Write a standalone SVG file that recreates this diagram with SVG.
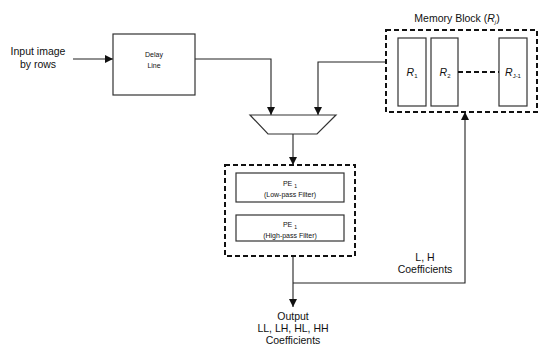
<svg xmlns="http://www.w3.org/2000/svg" width="539" height="349" viewBox="0 0 539 349">
<defs>
<style>
.box{fill:#fff;stroke:#333;stroke-width:1.2}
.dash{fill:none;stroke:#111;stroke-width:2;stroke-dasharray:5,3}
.ln{fill:none;stroke:#222;stroke-width:1.1}
text{font-family:"Liberation Sans",Arial,sans-serif;fill:#111;text-anchor:middle}
.t10{font-size:10.5px}
.t7{font-size:7px}
.it{font-style:italic}
</style>
<marker id="ah" viewBox="0 0 10 10" refX="10" refY="5" markerWidth="8" markerHeight="8" markerUnits="userSpaceOnUse" orient="auto">
<path d="M0,0 L10,5 L0,10 z" fill="#111"/>
</marker>
</defs>
<rect width="539" height="349" fill="#fff"/>
<g id="connectors">
<line class="ln" x1="73" y1="59" x2="113" y2="59" marker-end="url(#ah)"/>
<polyline class="ln" points="195,59 271,59 271,115" marker-end="url(#ah)"/>
<polyline class="ln" points="386,62 318,62 318,115" marker-end="url(#ah)"/>
<line class="ln" x1="293" y1="134" x2="293" y2="165" marker-end="url(#ah)"/>
<line class="ln" x1="293" y1="256" x2="293" y2="307" marker-end="url(#ah)"/>
<polyline class="ln" points="293,283 465,283 465,112" marker-end="url(#ah)"/>
</g>
<g id="input">
<text class="t10" x="38" y="55">Input image</text>
<text class="t10" x="38" y="68">by rows</text>
</g>
<g id="delay">
<rect class="box" x="113" y="34" width="82" height="61"/>
<text class="t7" x="154" y="57">Delay</text>
<text class="t7" x="154" y="68">Line</text>
</g>
<g id="mux">
<polygon class="box" points="250,115 336,115 317,134 268,134"/>
</g>
<g id="memory">
<text class="t10" x="457" y="22">Memory Block (<tspan class="it">R</tspan><tspan font-size="6" dy="2" class="it">j</tspan><tspan dy="-2">)</tspan></text>
<rect class="dash" x="386" y="30" width="151" height="82"/>
<rect class="box" x="398" y="38" width="28" height="68"/>
<rect class="box" x="431" y="38" width="27" height="68"/>
<rect class="box" x="499" y="38" width="28" height="68"/>
<line x1="458" y1="72" x2="499" y2="72" stroke="#111" stroke-width="2" stroke-dasharray="5,3"/>
<text class="t10" x="412" y="76"><tspan class="it">R</tspan><tspan font-size="6" dy="2">1</tspan></text>
<text class="t10" x="445" y="76"><tspan class="it">R</tspan><tspan font-size="6" dy="2">2</tspan></text>
<text class="t10" x="513" y="76"><tspan class="it">R</tspan><tspan font-size="6" dy="2">J-1</tspan></text>
</g>
<g id="pe">
<rect class="dash" x="225" y="165" width="130" height="91"/>
<rect class="box" x="236" y="173" width="108" height="29"/>
<text class="t7" x="290" y="186">PE <tspan font-size="5" dy="2">1</tspan></text>
<text class="t7" x="290" y="197">(Low-pass Filter)</text>
<rect class="box" x="236" y="215" width="108" height="26"/>
<text class="t7" x="290" y="227">PE <tspan font-size="5" dy="2">1</tspan></text>
<text class="t7" x="290" y="238">(High-pass Filter)</text>
</g>
<g id="lh">
<text class="t10" x="425" y="261">L, H</text>
<text class="t10" x="425" y="273">Coefficients</text>
</g>
<g id="output">
<text class="t10" x="293" y="320">Output</text>
<text class="t10" x="293" y="332">LL, LH, HL, HH</text>
<text class="t10" x="293" y="344">Coefficients</text>
</g>
</svg>
